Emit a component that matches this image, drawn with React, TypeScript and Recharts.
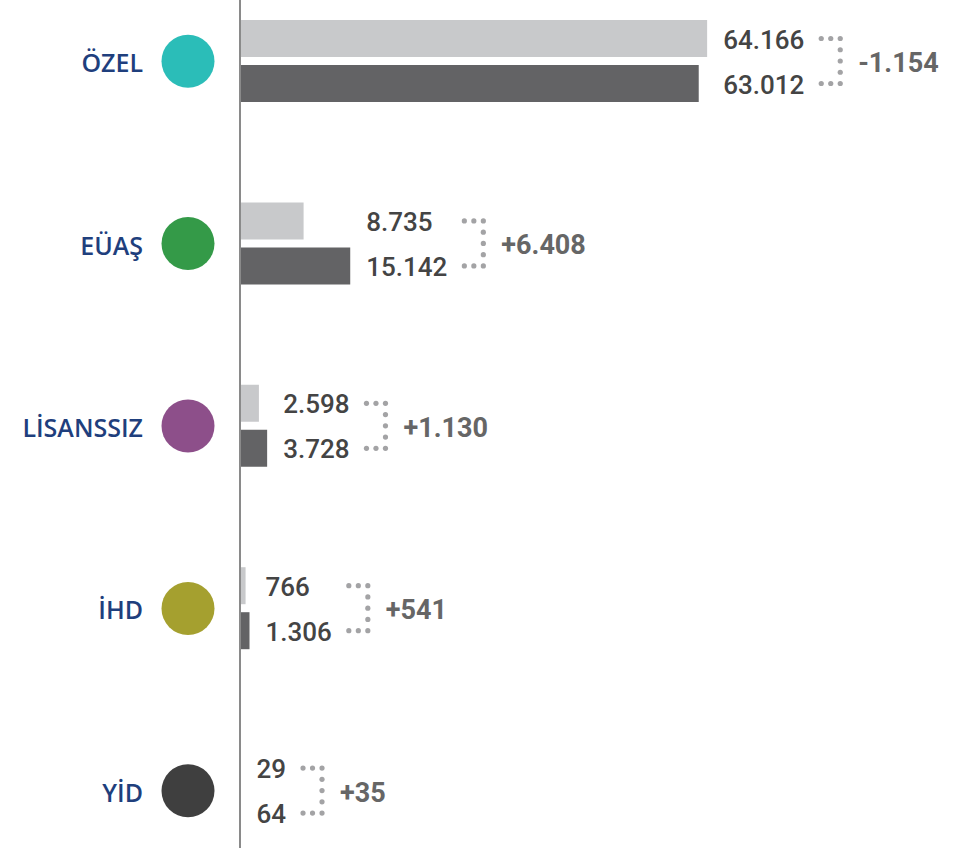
import React from 'react';
import { BarChart, Bar, XAxis, YAxis, LabelList } from 'recharts';

const categories = ['ÖZEL', 'EÜAŞ', 'LİSANSSIZ', 'İHD', 'YİD'];
const previousValues = [64166, 8735, 2598, 766, 29];
const currentValues = [63012, 15142, 3728, 1306, 64];
const diffLabels = ['-1.154', '+6.408', '+1.130', '+541', '+35'];
const dotColors = ['#2bbdb8', '#349a48', '#8d4f8a', '#a5a02f', '#3f3f3f'];

const data = categories.map((name, i) => ({
  name,
  prev: previousValues[i],
  curr: currentValues[i],
  diff: diffLabels[i],
  color: dotColors[i],
}));

const fmt = (v: number) => String(v).replace(/\B(?=(\d{3})+(?!\d))/g, '.');

const VALUE_SIZE = 26;
const DIFF_SIZE = 27;
const VALUE_FONT = `500 ${VALUE_SIZE}px Roboto`;

let ctx: CanvasRenderingContext2D | null = null;
function measure(text: string, font: string) {
  if (!ctx && typeof document !== 'undefined') {
    ctx = document.createElement('canvas').getContext('2d');
  }
  if (!ctx) return text.length * 13;
  ctx.font = font;
  return ctx.measureText(text).width;
}

const BAR = 37;
const GAP = 8;

const CategoryTick = (props: any) => {
  const { y, payload } = props;
  const i = categories.indexOf(payload.value);
  return (
    <g>
      <text
        x={143}
        y={y + 1}
        textAnchor="end"
        dominantBaseline="central"
        fill="#1f3f7d"
        style={{ fontFamily: '"Open Sans", sans-serif', fontWeight: 600, fontSize: 25 }}
      >
        {payload.value}
      </text>
      <circle cx={188} cy={y} r={26.5} fill={dotColors[i]} />
    </g>
  );
};

const RowLabels = (props: any) => {
  const { x, y, width, height, index } = props;
  const row = data[index];
  if (!row) return null;
  const darkEnd = x + width;
  const lightEnd = x + (row.curr ? (width * row.prev) / row.curr : 0);
  const darkY = y + height / 2;
  const lightY = y - GAP - height / 2;
  const labelX = Math.max(darkEnd, lightEnd) + 16;
  const t1 = fmt(row.prev);
  const t2 = fmt(row.curr);
  const textEnd = labelX + Math.max(measure(t1, VALUE_FONT), measure(t2, VALUE_FONT));
  const dx0 = textEnd + 17;
  const vx = dx0 + 19;
  const dots: Array<[number, number]> = [];
  for (let k = 0; k < 2; k++) {
    dots.push([dx0 + k * 9.5, lightY]);
    dots.push([dx0 + k * 9.5, darkY]);
  }
  const n = 4;
  for (let k = 0; k <= n; k++) {
    dots.push([vx, lightY + ((darkY - lightY) * k) / n]);
  }
  const valueStyle = { fontFamily: 'Roboto, sans-serif', fontWeight: 500, fontSize: VALUE_SIZE } as const;
  return (
    <g>
      <text x={labelX} y={lightY + 1} dominantBaseline="central" fill="#444444" style={valueStyle}>
        {t1}
      </text>
      <text x={labelX} y={darkY + 1} dominantBaseline="central" fill="#444444" style={valueStyle}>
        {t2}
      </text>
      {dots.map(([cx, cy], k) => (
        <circle key={k} cx={cx} cy={cy} r={2.6} fill="#a3a3a5" />
      ))}
      <text
        x={vx + 18}
        y={(lightY + darkY) / 2 + 2}
        dominantBaseline="central"
        fill="#666666"
        style={{ fontFamily: 'Roboto, sans-serif', fontWeight: 700, fontSize: DIFF_SIZE }}
      >
        {row.diff}
      </text>
    </g>
  );
};

export default function App() {
  return (
    <div style={{ position: 'fixed', left: 0, top: 0, width: 979, height: 848, background: '#fff' }}>
      <BarChart
        width={979}
        height={848}
        data={data}
        layout="vertical"
        margin={{ top: -30, right: 11, bottom: -34, left: 0 }}
        barGap={GAP}
        barSize={BAR}
      >
        <XAxis type="number" domain={[0, 100000]} hide />
        <YAxis
          type="category"
          dataKey="name"
          width={240}
          tickLine={false}
          axisLine={{ stroke: '#8a8a8a', strokeWidth: 2 }}
          tick={<CategoryTick />}
          interval={0}
        />
        <Bar dataKey="prev" fill="#c8c9cb" isAnimationActive={false} />
        <Bar dataKey="curr" fill="#636365" isAnimationActive={false}>
          <LabelList dataKey="curr" content={<RowLabels />} />
        </Bar>
      </BarChart>
    </div>
  );
}
